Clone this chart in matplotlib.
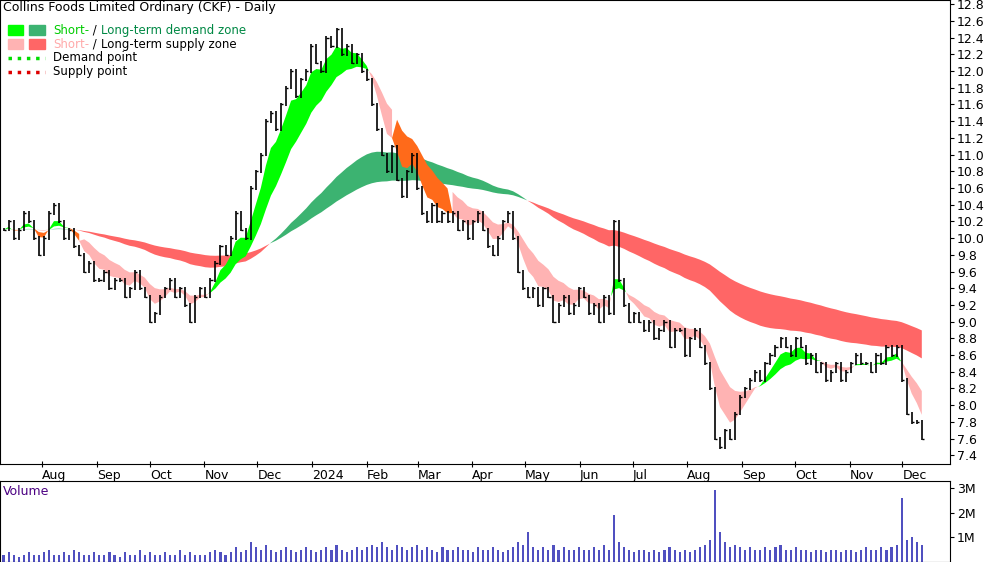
import numpy as np
import pandas as pd
import matplotlib.pyplot as plt
import matplotlib.dates as mdates

# closes sampled every second trading day
closes = [10.1, 10.2, 10.0, 10.1, 10.3, 10.2, 10.0, 9.8,
          10.0, 10.3, 10.4, 10.2, 10.0, 10.1, 9.9, 9.8, 9.6, 9.7, 9.5,
          9.5, 9.6, 9.4, 9.5, 9.5, 9.3, 9.4, 9.6, 9.4, 9.3,
          9.0, 9.1, 9.3, 9.4, 9.5, 9.3, 9.4, 9.2, 9.0, 9.3, 9.4,
          9.3, 9.5, 9.7, 9.9, 9.8, 10.0, 10.3, 10.1, 10.0, 10.6, 10.8,
          11.0, 11.4, 11.5, 11.3, 11.6, 11.8, 12.0, 11.7, 11.9, 12.0,
          12.3, 12.1, 12.0, 12.4, 12.3, 12.5, 12.2, 12.3, 12.1, 12.2, 12.0,
          11.9, 11.6, 11.3, 11.0, 10.8, 11.1, 10.7, 10.5, 10.8, 11.0,
          10.6, 10.3, 10.2, 10.4, 10.2, 10.3, 10.2, 10.3, 10.1, 10.2,
          10.0, 10.2, 10.3, 10.1, 9.9, 9.8, 10.0, 10.2, 10.3, 10.0, 9.6,
          9.4, 9.3, 9.4, 9.2, 9.4, 9.3, 9.0, 9.2, 9.3, 9.1, 9.2,
          9.4, 9.3, 9.1, 9.2, 9.0, 9.3, 9.1, 10.2, 9.5, 9.2,
          9.0, 9.1, 9.0, 8.9, 9.0, 8.8, 8.9, 9.0, 8.7, 8.9, 8.9,
          8.6, 8.8, 8.9, 8.7, 8.5, 8.2, 7.6, 7.5, 7.7, 7.6, 7.9,
          8.1, 8.2, 8.3, 8.4, 8.3, 8.5, 8.6, 8.7, 8.8, 8.7,
          8.6, 8.8, 8.7, 8.5, 8.6, 8.4, 8.5, 8.3, 8.4, 8.5, 8.3, 8.4,
          8.5, 8.6, 8.5, 8.5, 8.4, 8.6, 8.5, 8.7, 8.6, 8.7,
          8.3, 7.9, 7.8, 7.8, 7.6]

# volume in millions
volumes = [0.3, 0.4, 0.3, 0.2, 0.3, 0.4, 0.3, 0.3,
           0.4, 0.5, 0.3, 0.3, 0.4, 0.3, 0.5, 0.4, 0.3, 0.3, 0.4,
           0.3, 0.3, 0.4, 0.3, 0.2, 0.4, 0.3, 0.3, 0.5, 0.3,
           0.4, 0.3, 0.3, 0.4, 0.3, 0.3, 0.5, 0.3, 0.4, 0.3, 0.3,
           0.3, 0.4, 0.5, 0.4, 0.3, 0.4, 0.6, 0.4, 0.5, 0.8, 0.6,
           0.5, 0.7, 0.5, 0.4, 0.5, 0.6, 0.5, 0.4, 0.5, 0.6,
           0.5, 0.4, 0.5, 0.6, 0.5, 0.7, 0.5, 0.4, 0.5, 0.6, 0.5,
           0.6, 0.7, 0.6, 0.8, 0.6, 0.5, 0.7, 0.6, 0.5, 0.6,
           0.7, 0.5, 0.6, 0.5, 0.4, 0.6, 0.5, 0.5, 0.6, 0.5,
           0.5, 0.4, 0.6, 0.5, 0.5, 0.6, 0.5, 0.4, 0.5, 0.6, 0.8,
           0.7, 1.2, 0.6, 0.5, 0.6, 0.5, 0.7, 0.5, 0.6, 0.5, 0.5,
           0.6, 0.5, 0.5, 0.6, 0.5, 0.7, 0.5, 1.9, 0.8, 0.6,
           0.5, 0.4, 0.5, 0.5, 0.4, 0.5, 0.4, 0.5, 0.6, 0.5, 0.4,
           0.5, 0.4, 0.5, 0.6, 0.7, 0.9, 2.9, 1.2, 0.8, 0.6, 0.7,
           0.6, 0.5, 0.6, 0.5, 0.5, 0.6, 0.5, 0.6, 0.7, 0.5,
           0.5, 0.6, 0.5, 0.5, 0.4, 0.5, 0.5, 0.4, 0.5, 0.5, 0.4, 0.5,
           0.5, 0.4, 0.5, 0.6, 0.5, 0.5, 0.6, 0.5, 0.6, 0.7,
           2.6, 0.9, 1.0, 0.8, 0.7]

dates = pd.date_range('2023-07-10', '2024-12-12', periods=len(closes))
c = pd.Series(closes, index=dates)
x = mdates.date2num(dates)

s_fast = c.ewm(span=5, adjust=False).mean()
s_slow = c.ewm(span=13, adjust=False).mean()
l_fast = c.ewm(span=55, adjust=False).mean()
l_slow = c.ewm(span=95, adjust=False).mean()

fig = plt.figure(figsize=(10, 5.62), dpi=100)
ax = fig.add_axes([0.0, 0.175, 0.95, 0.825])
axv = fig.add_axes([0.0, 0.0, 0.95, 0.145], sharex=ax)

# long-term zone
lup = (l_fast >= l_slow).values
ax.fill_between(x, l_fast, l_slow, where=lup, color='#3cb371', lw=0, interpolate=True)
ax.fill_between(x, l_fast, l_slow, where=~lup, color='#ff6666', lw=0, interpolate=True)

# short-term zone
sup = (s_fast >= s_slow).values
lo_s = np.minimum(s_fast, s_slow)
hi_s = np.maximum(s_fast, s_slow)
lo_l = np.minimum(l_fast, l_slow)
hi_l = np.maximum(l_fast, l_slow)
overlap = ((lo_s <= hi_l + 0.05) & (hi_s >= lo_l - 0.05)).values
ax.fill_between(x, s_fast, s_slow, where=sup, color='#00ff00', lw=0, interpolate=True)
ax.fill_between(x, s_fast, s_slow, where=~sup & ~overlap, color='#ffb3b3', lw=0, interpolate=True)
ax.fill_between(x, s_fast, s_slow, where=~sup & overlap, color='#ff6a1a', lw=0, interpolate=True)

# price bars
prev = np.r_[closes[0], closes[:-1]]
ax.vlines(x, np.minimum(prev, closes) - 0.02, np.maximum(prev, closes) + 0.02, color='black', lw=1.2)
ax.hlines(closes, x, x + 1.2, color='black', lw=1)

ax.set_ylim(7.3, 12.85)
ax.set_xlim(x[0] - 2, x[-1] + 16)
ax.yaxis.tick_right()
yt = np.arange(7.4, 12.81, 0.2)
ax.set_yticks(yt)
ax.set_yticklabels([f'{v:.1f}' for v in yt], fontsize=9)
ax.tick_params(axis='y', length=3, pad=2)

def fmt_month(d, pos=None):
    dt = mdates.num2date(d)
    return '2024' if dt.month == 1 else dt.strftime('%b')
ax.xaxis.set_major_locator(mdates.MonthLocator())
ax.xaxis.set_major_formatter(plt.FuncFormatter(fmt_month))
ax.tick_params(axis='x', which='major', length=5, direction='inout', labelsize=9, pad=1)
for lbl in ax.get_xticklabels():
    lbl.set_horizontalalignment('left')

ax.text(0.003, 0.997, 'Collins Foods Limited Ordinary (CKF) - Daily', transform=ax.transAxes,
        va='top', fontsize=9)

# legend
fig.canvas.draw()
leg = [('#00ff00', '#3cb371', [('Short-', '#00cc00'), (' / ', 'black'), ('Long-term demand zone', '#008844')]),
       ('#ffb3b3', '#ff6666', [('Short-', '#ffaaaa'), (' / ', 'black'), ('Long-term supply zone', 'black')])]
y0 = 0.935
for i, (c1, c2, parts) in enumerate(leg):
    yy = y0 - i * 0.03
    ax.add_patch(plt.Rectangle((0.008, yy - 0.011), 0.016, 0.022, color=c1, transform=ax.transAxes))
    ax.add_patch(plt.Rectangle((0.031, yy - 0.011), 0.016, 0.022, color=c2, transform=ax.transAxes))
    xx = 0.056
    for txt, col in parts:
        t = ax.text(xx, yy, txt, transform=ax.transAxes, va='center', fontsize=8.5, color=col)
        bb = t.get_window_extent(renderer=fig.canvas.get_renderer())
        xx += bb.width / (ax.bbox.width)
for i, (col, lab) in enumerate([('#00dd00', 'Demand point'), ('#dd0000', 'Supply point')]):
    yy = y0 - (i + 2) * 0.03
    ax.plot([0.008, 0.047], [yy, yy], ls=':', lw=2.5, color=col, transform=ax.transAxes)
    ax.text(0.056, yy, lab, transform=ax.transAxes, va='center', fontsize=8.5)

# volume
axv.bar(x, volumes, width=1.2, color='#5050c0')
axv.set_ylim(0, 3.3)
axv.yaxis.tick_right()
axv.set_yticks([1, 2, 3])
axv.set_yticklabels(['1M', '2M', '3M'], fontsize=9)
axv.tick_params(axis='x', length=0, labelbottom=False)
axv.tick_params(axis='y', length=3, pad=2)
axv.text(0.003, 0.95, 'Volume', transform=axv.transAxes, va='top', fontsize=9, color='#4b0082')

fig.savefig('out.png', dpi=100)
